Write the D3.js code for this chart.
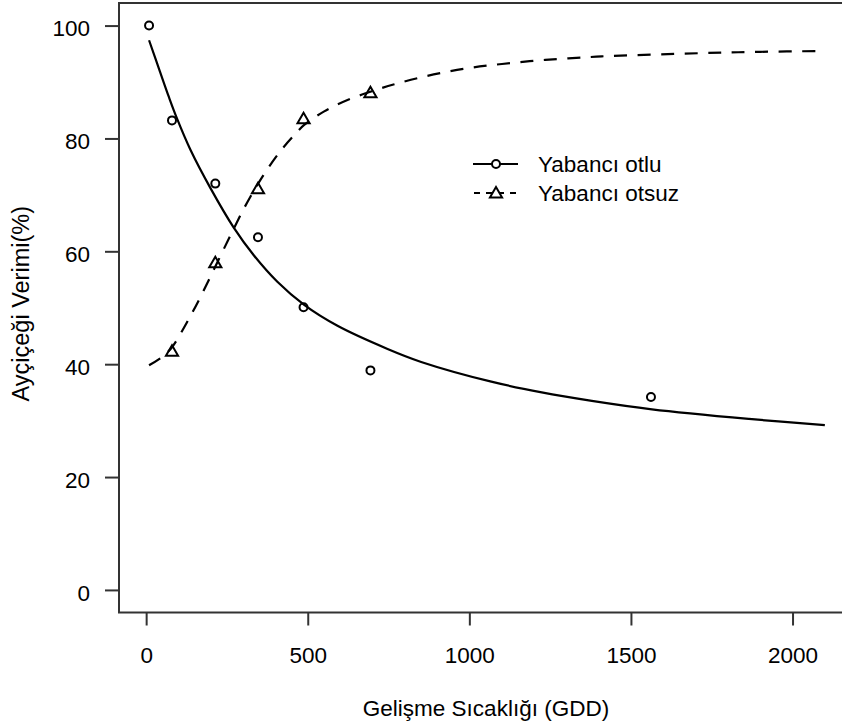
<!DOCTYPE html>
<html>
<head>
<meta charset="utf-8">
<script src="https://cdn.jsdelivr.net/npm/d3@7"></script>
<style>
  html, body { margin: 0; padding: 0; background: #fff; }
  svg { display: block; }
  text { font-family: "Liberation Sans", Arial, sans-serif; fill: #000; }
</style>
</head>
<body>
<svg id="chart" width="842" height="728"></svg>
<script>
// ---- data ----
const xTicks = [0, 500, 1000, 1500, 2000];
const yTicks = [0, 20, 40, 60, 80, 100];

// observed points: "Yabancı otlu" (circles)
const otluGdd   = [9, 80, 214, 346, 487, 694, 1562];
const otluYield = [100, 83.2, 72.0, 62.5, 50.1, 38.9, 34.2];

// observed points: "Yabancı otsuz" (triangles)
const otsuzGdd   = [80, 214, 346, 487, 694];
const otsuzYield = [42.1, 57.8, 70.9, 83.3, 87.9];

// fitted curve: "Yabancı otlu" (solid)
const otluFitGdd   = [9, 43, 70, 95, 137, 199, 271, 333, 406, 489, 592, 747, 851, 1068, 1224, 1379, 1565, 1865, 2100];
const otluFitYield = [97.4, 91.8, 87.4, 83.6, 78.0, 71.2, 64.2, 59.3, 54.6, 50.5, 46.8, 42.7, 40.4, 36.9, 35.0, 33.5, 32.0, 30.3, 29.2];

// fitted curve: "Yabancı otsuz" (dashed)
const otsuzFitGdd   = [9, 50, 80, 126, 168, 219, 271, 313, 364, 416, 460, 489, 551, 623, 706, 768, 841, 913, 991, 1062, 1136, 1208, 1280, 1353, 1410, 1710, 1900, 2100];
const otsuzFitYield = [39.8, 41.3, 43.0, 47.4, 51.9, 57.9, 64.0, 68.7, 73.6, 77.8, 80.7, 82.4, 84.8, 86.8, 88.5, 89.6, 90.7, 91.6, 92.4, 92.95, 93.4, 93.8, 94.1, 94.35, 94.55, 95.1, 95.35, 95.5];

const legendLabels = ["Yabancı otlu", "Yabancı otsuz"];
const xLabel = "Gelişme Sıcaklığı (GDD)";
const yLabel = "Ayçiçeği Verimi(%)";

// ---- layout ----
const box = { left: 119, top: 3, right: 852, bottom: 612.5 };
const svg = d3.select("#chart");

const x = d3.scaleLinear().domain([-84, 2184]).range([box.left, box.right]);
const y = d3.scaleLinear().domain([-4, 104]).range([box.bottom, box.top]);

const ink = "#111";
const fontSize = 22.5;

// plot box
svg.append("rect")
  .attr("x", box.left).attr("y", box.top)
  .attr("width", box.right - box.left).attr("height", box.bottom - box.top)
  .attr("fill", "none").attr("stroke", "#333").attr("stroke-width", 2);

// x axis
const xAxis = d3.axisBottom(x).tickValues(xTicks).tickSize(13).tickPadding(22).tickFormat(d3.format("d"));
const gx = svg.append("g").attr("transform", `translate(0,${box.bottom})`).call(xAxis);
gx.select(".domain").remove();
gx.selectAll(".tick line").attr("stroke", "#333").attr("stroke-width", 2);
gx.selectAll(".tick text").attr("font-size", fontSize).attr("fill", ink)
  .attr("font-family", "Liberation Sans, Arial, sans-serif");

// y axis
const yAxis = d3.axisLeft(y).tickValues(yTicks).tickSize(14).tickPadding(15).tickFormat(d3.format("d"));
const gy = svg.append("g").attr("transform", `translate(${box.left},0)`).call(yAxis);
gy.select(".domain").remove();
gy.selectAll(".tick line").attr("stroke", "#333").attr("stroke-width", 2);
gy.selectAll(".tick text").attr("font-size", fontSize).attr("fill", ink)
  .attr("dy", "0.45em")
  .attr("font-family", "Liberation Sans, Arial, sans-serif");

// axis titles
svg.append("text")
  .attr("x", 486).attr("y", 716)
  .attr("text-anchor", "middle").attr("font-size", fontSize)
  .text(xLabel);

svg.append("text")
  .attr("transform", `translate(29,${(box.top + box.bottom) / 2 - 4}) rotate(-90)`)
  .attr("text-anchor", "middle").attr("font-size", 23.5)
  .text(yLabel);

// clip for curves
svg.append("clipPath").attr("id", "clip")
  .append("rect").attr("x", box.left).attr("y", box.top)
  .attr("width", box.right - box.left).attr("height", box.bottom - box.top);

const line = d3.line().x(d => x(d[0])).y(d => y(d[1])).curve(d3.curveCatmullRom.alpha(0.5));

const otluFit = otluFitGdd.map((g, i) => [g, otluFitYield[i]]);
const otsuzFit = otsuzFitGdd.map((g, i) => [g, otsuzFitYield[i]]);

const plot = svg.append("g").attr("clip-path", "url(#clip)");

plot.append("path").datum(otluFit)
  .attr("d", line).attr("fill", "none").attr("stroke", "#000")
  .attr("stroke-width", 2.2).attr("stroke-linejoin", "round");

plot.append("path").datum(otsuzFit)
  .attr("d", line).attr("fill", "none").attr("stroke", "#000")
  .attr("stroke-width", 2.2).attr("stroke-dasharray", "13,10.5");

// markers
const circR = 4;
const triR = 1.555 * circR + 0.8;
function triPath(cx, cy, r) {
  const h = r * Math.sqrt(3) / 2;
  return `M${cx},${cy - r}L${cx + h},${cy + r / 2}L${cx - h},${cy + r / 2}Z`;
}

plot.selectAll("circle.otlu")
  .data(otluGdd.map((g, i) => [g, otluYield[i]]))
  .join("circle").attr("class", "otlu")
  .attr("cx", d => x(d[0])).attr("cy", d => y(d[1])).attr("r", circR)
  .attr("fill", "none").attr("stroke", "#000").attr("stroke-width", 2);

plot.selectAll("path.otsuz")
  .data(otsuzGdd.map((g, i) => [g, otsuzYield[i]]))
  .join("path").attr("class", "otsuz")
  .attr("d", d => triPath(x(d[0]), y(d[1]), triR))
  .attr("fill", "none").attr("stroke", "#000").attr("stroke-width", 2)
  .attr("stroke-linejoin", "miter");

// legend
const legRows = [164, 193];
const leg = svg.append("g");
// row 1: solid + circle
leg.append("line").attr("x1", 473).attr("x2", 518).attr("y1", legRows[0]).attr("y2", legRows[0])
  .attr("stroke", "#000").attr("stroke-width", 2);
leg.append("circle").attr("cx", 496).attr("cy", legRows[0]).attr("r", circR)
  .attr("fill", "#fff").attr("stroke", "#000").attr("stroke-width", 2);
// row 2: dashed + triangle
leg.append("line").attr("x1", 474).attr("x2", 518).attr("y1", legRows[1]).attr("y2", legRows[1])
  .attr("stroke", "#000").attr("stroke-width", 2).attr("stroke-dasharray", "6,6");
leg.append("path").attr("d", triPath(496, legRows[1] + 1, triR))
  .attr("fill", "#fff").attr("stroke", "#000").attr("stroke-width", 2);

leg.selectAll("text.leg").data(legendLabels).join("text").attr("class", "leg")
  .attr("x", 538).attr("y", (d, i) => legRows[i] + 8)
  .attr("font-size", fontSize)
  .text(d => d);
</script>
</body>
</html>
